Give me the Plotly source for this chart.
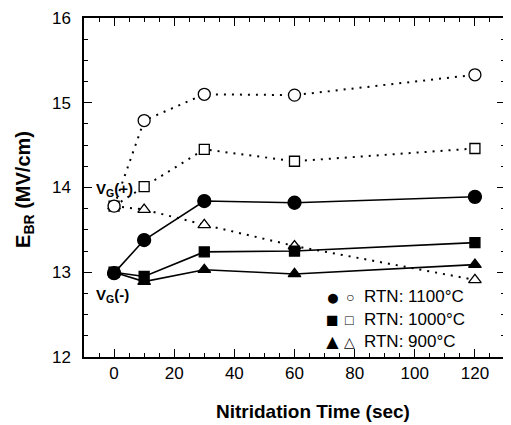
import plotly.graph_objects as go

time_s = [0, 10, 30, 60, 120]

# Open symbols: V_G(+) ; filled symbols: V_G(-)
pos_1100 = [13.78, 14.79, 15.10, 15.09, 15.33]
pos_1000 = [13.78, 14.01, 14.45, 14.31, 14.46]
pos_900 = [13.78, 13.74, 13.56, 13.31, 12.91]
neg_1100 = [12.99, 13.38, 13.84, 13.82, 13.89]
neg_1000 = [13.00, 12.95, 13.24, 13.25, 13.35]
neg_900 = [13.00, 12.89, 13.03, 12.98, 13.09]

x_ticks = [0, 20, 40, 60, 80, 100, 120]
y_ticks = [12, 13, 14, 15, 16]
legend_labels = ["RTN: 1100°C", "RTN: 1000°C", "RTN: 900°C"]

FONT = "Liberation Sans, Arial, sans-serif"

fig = go.Figure()

def add(y, symbol, filled, size):
    fig.add_trace(go.Scatter(
        x=time_s, y=y, mode="lines+markers",
        line=dict(color="black", width=1.6 if filled else 2.0,
                  dash="solid" if filled else "2px,6px"),
        marker=dict(symbol=symbol, size=size, color="black" if filled else "white",
                    line=dict(color="black", width=1.3)),
        showlegend=False,
    ))

add(pos_900, "triangle-up", False, 11)
add(pos_1000, "square", False, 10)
add(pos_1100, "circle", False, 12)
add(neg_900, "triangle-up", True, 11)
add(neg_1000, "square", True, 10)
add(neg_1100, "circle", True, 13)

ann = [
    dict(x=-6.7, y=13.98, text="<b>V<sub>G</sub>(+)</b>", xanchor="left", yanchor="middle", size=15),
    dict(x=-6.7, y=12.72, text="<b>V<sub>G</sub>(-)</b>", xanchor="left", yanchor="middle", size=15),
]
sym = [("●", "○", 23), ("■", "□", 21), ("▲", "△", 21)]
leg_y = [12.71, 12.44, 12.18]
for (f, o, fs), lab, yy in zip(sym, legend_labels, leg_y):
    ann.append(dict(x=72.7, y=yy, text=f, xanchor="center", yanchor="middle", size=fs))
    ann.append(dict(x=78.3, y=yy, text=o, xanchor="center", yanchor="middle", size=14))
    ann.append(dict(x=82.3, y=yy, text=lab, xanchor="left", yanchor="middle", size=17))
for a in ann:
    s = a.pop("size")
    a.update(xref="x", yref="y", showarrow=False, font=dict(family=FONT, size=s, color="black"))

# axis titles
ann.append(dict(xref="paper", yref="paper", x=0.544, y=-0.162, text="<b>Nitridation Time (sec)</b>",
                showarrow=False, xanchor="center", yanchor="middle",
                font=dict(family=FONT, size=19, color="black")))
ann.append(dict(xref="paper", yref="paper", x=-0.140, y=0.493, text="<b>E<sub>BR</sub> (MV/cm)</b>",
                showarrow=False, xanchor="center", yanchor="middle", textangle=-90,
                font=dict(family=FONT, size=20, color="black")))
fig.update_layout(annotations=ann)

axis_common = dict(
    showline=True, linecolor="black", linewidth=1.5, mirror="ticks",
    ticks="inside", ticklen=8, tickwidth=1.3, tickcolor="black",
    showgrid=False, zeroline=False, automargin=False,
    tickfont=dict(family=FONT, size=17, color="black"),
)
fig.update_xaxes(
    range=[-10, 130], tickvals=x_ticks, ticktext=[str(v) for v in x_ticks],
    minor=dict(dtick=5, tick0=0, ticks="inside", ticklen=4, tickcolor="black", tickwidth=1.2),
    **axis_common,
)
fig.update_yaxes(
    range=[12, 16], tickvals=y_ticks, ticktext=[str(v) for v in y_ticks],
    minor=dict(dtick=0.25, tick0=12, ticks="inside", ticklen=4, tickcolor="black", tickwidth=1.2),
    ticklabelstandoff=8,
    **axis_common,
)
fig.update_layout(
    width=511, height=425,
    margin=dict(l=76, r=14, t=10, b=76),
    paper_bgcolor="white", plot_bgcolor="white",
)
fig.write_html("out.html")
